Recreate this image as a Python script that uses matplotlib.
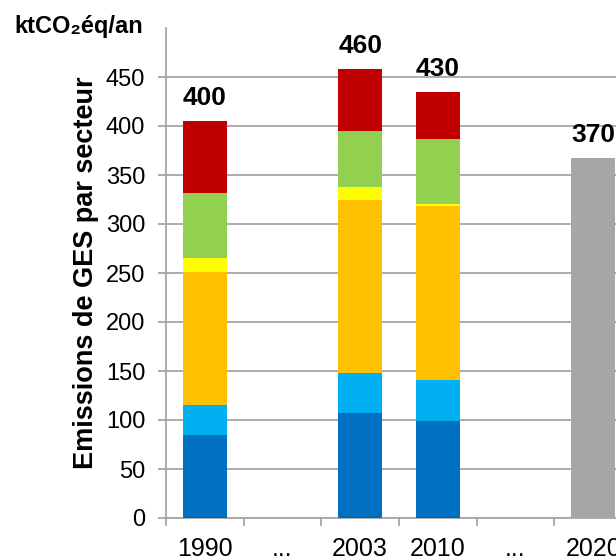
import numpy as np
import matplotlib
matplotlib.use('Agg')
import matplotlib.pyplot as plt

plt.rcParams['font.family'] = ['Liberation Sans', 'DejaVu Sans']

# données (ktCO2éq/an)
categories = ['1990', '...', '2003', '2010', '...', '2020']
autres = [1, 0, 1, 1, 0, 0]
residentiel = [84, 0, 106, 98, 0, 0]
tertiaire = [30, 0, 41, 42, 0, 0]
transport = [136, 0, 177, 177, 0, 0]
industrie = [14, 0, 13, 2, 0, 0]
agriculture = [67, 0, 57, 67, 0, 0]
dechets = [73, 0, 63, 48, 0, 0]
objectif = [0, 0, 0, 0, 0, 367]
totaux = ['400', '', '460', '430', '', '370']

couleurs = ['#7030A0', '#0070C0', '#00B0F0', '#FFC000', '#FFFF00', '#92D050', '#C00000']
series = [autres, residentiel, tertiaire, transport, industrie, agriculture, dechets]

fig = plt.figure(figsize=(6.16, 5.56), dpi=100)
ax = fig.add_axes([166/616, 38/556, (632-166)/616, (518-28)/556])

x = np.arange(len(categories))
w = 0.57
bas = np.zeros(len(categories))
for vals, c in zip(series, couleurs):
    v = np.array(vals, dtype=float)
    ax.bar(x, v, w, bottom=bas, color=c, zorder=3)
    bas += v
ax.bar(x, objectif, w, color='#A6A6A6', zorder=3)
haut = np.maximum(bas, objectif)

for xi, h, t in zip(x, haut, totaux):
    if t:
        ax.annotate(t, (xi, h), xytext=(0, 8), textcoords='offset points',
                    ha='center', va='bottom', fontsize=19, fontweight='bold')

ax.set_xlim(-0.5, len(categories) - 0.5)
ax.set_ylim(0, 500)
ax.set_yticks(np.arange(0, 451, 50))
ax.yaxis.grid(True, color='#A6A6A6', linewidth=1.3, zorder=0)
ax.set_axisbelow(True)

ax.set_xticks(x)
ax.set_xticklabels(categories, fontsize=18)
ax.set_xticks(np.arange(-0.5, len(categories), 1), minor=True)
ax.tick_params(axis='x', which='major', length=0, pad=14)
ax.tick_params(axis='x', which='minor', length=6, color='#A6A6A6', width=1.3)
ax.tick_params(axis='y', length=6, color='#A6A6A6', width=1.3, labelsize=17, pad=9)

for s in ['top', 'right']:
    ax.spines[s].set_visible(False)
for s in ['left', 'bottom']:
    ax.spines[s].set_color('#A6A6A6')
    ax.spines[s].set_linewidth(1.3)

ax.set_ylabel('Emissions de GES par secteur', fontsize=19.5, fontweight='bold')
ax.yaxis.set_label_coords(-0.144, 0.5)
fig.text(14/616, 1 - 27/556, 'ktCO₂éq/an', fontsize=17, fontweight='bold',
         ha='left', va='center')

fig.savefig('out.png', dpi=100)
